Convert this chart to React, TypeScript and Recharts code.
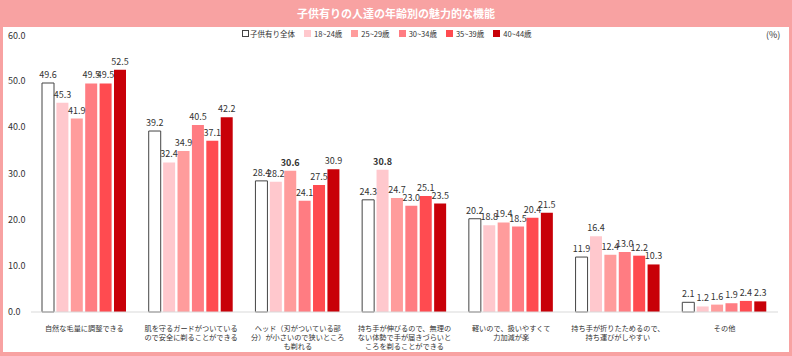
import React from 'react';
import { BarChart, Bar, XAxis, YAxis, LabelList } from 'recharts';

const categories = [
  '自然な毛量に調整できる',
  '肌を守るガードがついている\nので安全に剃ることができる',
  'ヘッド（刃がついている部\n分）が小さいので狭いところ\nも剃れる',
  '持ち手が伸びるので、無理の\nない体勢で手が届きづらいと\nころを剃ることができる',
  '軽いので、扱いやすくて\n力加減が楽',
  '持ち手が折りたためるので、\n持ち運びがしやすい',
  'その他',
];

const seriesNames = ['子供有り全体', '18~24歳', '25~29歳', '30~34歳', '35~39歳', '40~44歳'];

const all = [49.6, 39.2, 28.4, 24.3, 20.2, 11.9, 2.1];
const age18 = [45.3, 32.4, 28.2, 30.8, 18.8, 16.4, 1.2];
const age25 = [41.9, 34.9, 30.6, 24.7, 19.4, 12.4, 1.6];
const age30 = [49.5, 40.5, 24.1, 23.0, 18.5, 13.0, 1.9];
const age35 = [49.5, 37.1, 27.5, 25.1, 20.4, 12.2, 2.4];
const age40 = [52.5, 42.2, 30.9, 23.5, 21.5, 10.3, 2.3];

// labels shown in bold: [category index, series index]
const boldLabels = [[2, 2], [3, 1]];

const yTicks = [0, 10, 20, 30, 40, 50, 60];

const COLORS = ['#ffffff', '#ffc8cd', '#ff9c9c', '#ff7c82', '#ff4b50', '#c80008'];
const FONT = "'Noto Sans CJK JP', 'Noto Sans', sans-serif";

const seriesValues = [all, age18, age25, age30, age35, age40];
const data = categories.map((name, i) => {
  const row: any = { name };
  seriesValues.forEach((vals, s) => { row['s' + s] = vals[i]; });
  return row;
});

const XTick = (props: any) => {
  const { x, y, payload } = props;
  const lines = String(payload.value).split('\n');
  return (
    <text x={x} y={y + 11} textAnchor="middle" fontSize={7.2} fill="#333" fontFamily={FONT}>
      {lines.map((l, i) => (
        <tspan key={i} x={x} dy={i === 0 ? 0 : 9}>{l}</tspan>
      ))}
    </text>
  );
};

const YTick = (props: any) => {
  const { y, payload } = props;
  return (
    <text x={5} y={y + 3} textAnchor="start" fontSize={9} fill="#333" fontFamily={FONT}>
      {payload.value.toFixed(1)}
    </text>
  );
};

const makeLabel = (s: number) => (props: any) => {
  const { x, y, width, value, index } = props;
  const bold = boldLabels.some(([c, ss]) => c === index && ss === s);
  return (
    <text
      x={x + width / 2}
      y={y - 5}
      textAnchor="middle"
      fontSize={9}
      fill="#333"
      fontWeight={bold ? 'bold' : 'normal'}
      fontFamily={FONT}
    >
      {value.toFixed(1)}
    </text>
  );
};

const App: React.FC = () => (
  <div
    style={{
      position: 'absolute',
      left: 0,
      top: 0,
      width: 792,
      height: 356,
      background: '#f8a2a2',
      boxSizing: 'border-box',
      fontFamily: FONT,
    }}
  >
    <div
      style={{
        height: 27,
        lineHeight: '27px',
        textAlign: 'center',
        color: '#fff',
        fontWeight: 'bold',
        fontSize: 11,
      }}
    >
      子供有りの人達の年齢別の魅力的な機能
    </div>
    <div style={{ position: 'absolute', left: 3, top: 27, width: 786, height: 325, background: '#fff' }}>
      <BarChart
        width={786}
        height={325}
        data={data}
        margin={{ top: 8, right: 11, bottom: 0, left: 0 }}
        barCategoryGap={11}
        barGap={2.4}
      >
        <XAxis
          dataKey="name"
          interval={0}
          height={40}
          tickLine={false}
          axisLine={{ stroke: '#d9d9d9' }}
          tick={<XTick />}
        />
        <YAxis
          width={28}
          domain={[0, 60]}
          ticks={yTicks}
          axisLine={false}
          tickLine={false}
          tick={<YTick />}
        />
        {seriesNames.map((n, s) => (
          <Bar
            key={n}
            dataKey={'s' + s}
            name={n}
            fill={COLORS[s]}
            stroke={s === 0 ? '#444' : 'none'}
            strokeWidth={1}
            isAnimationActive={false}
          >
            <LabelList dataKey={'s' + s} content={makeLabel(s)} />
          </Bar>
        ))}
      </BarChart>
      <div
        style={{
          position: 'absolute',
          left: 239,
          top: 0,
          display: 'flex',
          alignItems: 'center',
          fontSize: 7.5,
          color: '#333',
          height: 13,
        }}
      >
        {seriesNames.map((n, s) => (
          <div key={n} style={{ display: 'flex', alignItems: 'center', marginRight: 9 }}>
            <span
              style={{
                display: 'inline-block',
                width: 7,
                height: 7,
                background: COLORS[s],
                border: s === 0 ? '1px solid #444' : 'none',
                boxSizing: 'border-box',
                marginRight: s === 0 ? 1 : 3,
              }}
            />
            {n}
          </div>
        ))}
      </div>
      <div style={{ position: 'absolute', left: 763, top: 1, fontSize: 9, color: '#333' }}>(%)</div>
    </div>
  </div>
);

export default App;
